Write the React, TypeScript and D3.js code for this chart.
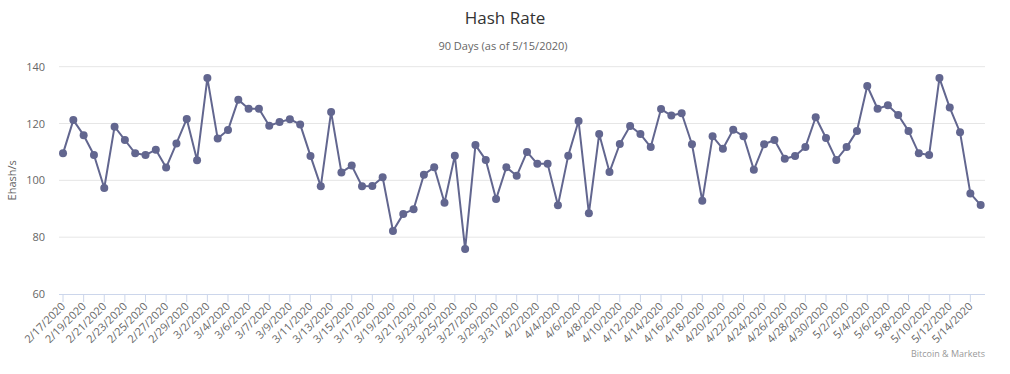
import { scaleLinear, line } from 'd3';

const dates = [
  '2/17/2020', '2/18/2020', '2/19/2020', '2/20/2020', '2/21/2020', '2/22/2020', '2/23/2020', '2/24/2020',
  '2/25/2020', '2/26/2020', '2/27/2020', '2/28/2020', '2/29/2020', '3/1/2020', '3/2/2020', '3/3/2020',
  '3/4/2020', '3/5/2020', '3/6/2020', '3/6/2020', '3/7/2020', '3/8/2020', '3/9/2020', '3/10/2020',
  '3/11/2020', '3/12/2020', '3/13/2020', '3/14/2020', '3/15/2020', '3/16/2020', '3/17/2020', '3/18/2020',
  '3/19/2020', '3/20/2020', '3/21/2020', '3/22/2020', '3/23/2020', '3/24/2020', '3/25/2020', '3/26/2020',
  '3/27/2020', '3/28/2020', '3/29/2020', '3/30/2020', '3/31/2020', '4/1/2020', '4/2/2020', '4/3/2020',
  '4/4/2020', '4/5/2020', '4/6/2020', '4/7/2020', '4/8/2020', '4/9/2020', '4/10/2020', '4/11/2020',
  '4/12/2020', '4/13/2020', '4/14/2020', '4/15/2020', '4/16/2020', '4/17/2020', '4/18/2020', '4/19/2020',
  '4/20/2020', '4/21/2020', '4/22/2020', '4/23/2020', '4/24/2020', '4/25/2020', '4/26/2020', '4/27/2020',
  '4/28/2020', '4/29/2020', '4/30/2020', '5/1/2020', '5/2/2020', '5/3/2020', '5/4/2020', '5/5/2020',
  '5/6/2020', '5/7/2020', '5/8/2020', '5/9/2020', '5/10/2020', '5/11/2020', '5/12/2020', '5/13/2020',
  '5/14/2020', '5/15/2020',
];

// Ehash/s
const hashRate = [
  109.5, 121.2, 115.9, 108.9, 97.3, 118.9, 114.2, 109.5, 108.9, 110.8,
  104.5, 113, 121.6, 107.1, 136, 114.7, 117.7, 128.4, 125.2, 125.2,
  119.2, 120.5, 121.5, 119.7, 108.6, 97.9, 124.1, 102.8, 105.2, 97.9,
  98, 101.1, 82.2, 88.2, 89.8, 102, 104.6, 92.1, 108.7, 75.8,
  112.4, 107.2, 93.4, 104.6, 101.6, 110, 105.8, 105.8, 91.2, 108.7,
  120.9, 88.4, 116.3, 102.9, 112.8, 119.1, 116.3, 111.7, 125.1, 122.8,
  123.6, 112.7, 92.8, 115.5, 111.1, 117.8, 115.5, 103.7, 112.7, 114.2,
  107.6, 108.6, 111.7, 122.2, 114.9, 107.2, 111.7, 117.4, 133.2, 125.2,
  126.4, 123, 117.4, 109.5, 108.9, 136, 125.6, 116.9, 95.4, 91.3,
];

const yTicks = [60, 80, 100, 120, 140];

const width = 1010;
const height = 374;
const plot = { left: 59, right: 985, top: 66.7, bottom: 294 };
const font = "'Open Sans', 'DejaVu Sans', sans-serif";
const lineColor = '#62668f';

export default function App() {
  const x = scaleLinear()
    .domain([-0.39, dates.length - 1 + 0.42])
    .range([plot.left, plot.right]);
  const y = scaleLinear().domain([60, 140]).range([plot.bottom, plot.top]);

  const path = line<number>()
    .x((_, i) => x(i))
    .y((d) => y(d))(hashRate);

  const labelIdx = dates.map((_, i) => i).filter((i) => i % 2 === 0);

  return (
    <div style={{ position: 'absolute', left: 0, top: 0 }}>
      <svg width={width} height={height} style={{ display: 'block', fontFamily: font }}>
        <rect width={width} height={height} fill="#fff" />
        <text x={505} y={24} textAnchor="middle" fontSize={17} fill="#333">
          Hash Rate
        </text>
        <text x={503} y={50} textAnchor="middle" fontSize={11} fill="#666">
          90 Days (as of 5/15/2020)
        </text>

        {/* grid + y labels */}
        {yTicks.map((t) => (
          <g key={t}>
            {t !== 60 && (
              <line x1={plot.left} x2={plot.right} y1={y(t)} y2={y(t)} stroke="#e6e6e6" />
            )}
            <text x={45} y={y(t) + 4} textAnchor="end" fontSize={11} fill="#666">
              {t}
            </text>
          </g>
        ))}
        <text
          transform={`translate(16,${(plot.top + plot.bottom) / 2}) rotate(-90)`}
          textAnchor="middle"
          fontSize={11}
          fill="#666"
        >
          Ehash/s
        </text>

        {/* x axis */}
        <line x1={plot.left} x2={plot.right} y1={plot.bottom + 0.5} y2={plot.bottom + 0.5} stroke="#ccd6eb" />
        {labelIdx.map((i) => (
          <g key={i}>
            <line x1={x(i)} x2={x(i)} y1={plot.bottom} y2={plot.bottom + 8} stroke="#ccd6eb" />
            <text
              transform={`translate(${x(i) + 3},${plot.bottom + 13}) rotate(-45)`}
              textAnchor="end"
              fontSize={11}
              fill="#666"
            >
              {dates[i]}
            </text>
          </g>
        ))}

        <path d={path ?? ''} fill="none" stroke={lineColor} strokeWidth={2} strokeLinejoin="round" />
        {hashRate.map((v, i) => (
          <circle key={i} cx={x(i)} cy={y(v)} r={4} fill={lineColor} />
        ))}

        <text x={985} y={357} textAnchor="end" fontSize={9} fill="#999">
          Bitcoin &amp; Markets
        </text>
      </svg>
    </div>
  );
}
